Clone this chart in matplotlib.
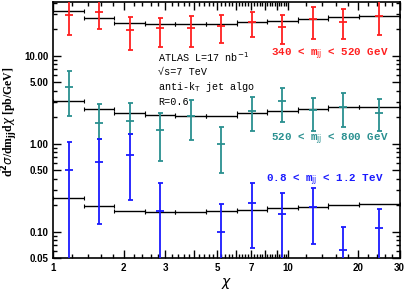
import numpy as np
import matplotlib
matplotlib.use("Agg")
import matplotlib.pyplot as plt
from matplotlib.ticker import FixedLocator, FixedFormatter, NullFormatter

# chi bin edges
edges = [1.0, 1.35, 1.82, 2.46, 3.32, 4.48, 6.05, 8.17, 11.02, 14.88, 20.09, 30.0]

# 340 < mjj < 520 GeV (red)
red_val = [28.6, 31.4, 19.3, 20.5, 20.4, 21.6, 24.0, 21.2, 25.9, 24.2, 28.3]
red_hi = [45.0, 45.0, 27.1, 26.4, 28.1, 28.8, 30.9, 29.0, 35.3, 33.7, 42.0]
red_lo = [17.1, 19.8, 11.5, 12.6, 12.4, 14.0, 16.1, 13.5, 15.4, 15.3, 17.1]
red_th = [32.3, 26.9, 23.5, 22.6, 22.6, 23.0, 24.2, 24.8, 25.9, 27.4, 28.3]

# 520 < mjj < 800 GeV (teal)
teal_val = [4.36, 1.73, 1.82, 1.42, 2.06, 0.99, 2.34, 3.07, 2.41, 2.62, 2.21]
teal_hi = [6.67, 2.79, 2.87, 2.21, 3.12, 1.56, 3.35, 4.31, 3.32, 3.72, 3.18]
teal_lo = [2.06, 1.13, 1.29, 0.635, 1.10, 0.46, 1.38, 1.77, 1.39, 1.56, 1.40]
teal_th = [3.07, 2.45, 2.21, 2.11, 2.06, 2.08, 2.24, 2.36, 2.47, 2.58, 2.62]

# 0.8 < mjj < 1.2 TeV (blue)
blue_val = [0.50, 0.62, 0.75, 0.170, np.nan, 0.100, 0.212, 0.160, 0.192, 0.0615, 0.111]
blue_hi = [1.03, 1.12, 1.29, 0.357, np.nan, 0.208, 0.36, 0.273, 0.31, 0.113, 0.178]
blue_lo = [0.02, 0.123, 0.227, 0.02, np.nan, 0.02, 0.0648, 0.02, 0.072, 0.02, 0.02]
blue_th = [0.239, 0.196, 0.169, 0.167, 0.167, 0.172, 0.176, 0.186, 0.192, 0.201, 0.205]

ytick_vals = [0.05, 0.1, 0.5, 1, 5, 10]
ytick_labels = ["0.05", "0.10", "0.50", "1.00", "5.00", "10.00"]
xtick_vals = [1, 2, 3, 5, 7, 10, 20, 30]
xtick_labels = ["1", "2", "3", "5", "7", "10", "20", "30"]

W, H = 407, 292
fig = plt.figure(figsize=(W / 100, H / 100), dpi=100)
ax = fig.add_axes([53.3 / W, (H - 258) / H, (399.5 - 53.3) / W, (258 - 2) / H])

e = np.array(edges)
centers = np.sqrt(e[:-1] * e[1:])

def draw(val, hi, lo, th, color):
    th = np.array(th)
    ax.errorbar(centers, th, xerr=[centers - e[:-1], e[1:] - centers], fmt='none',
                ecolor='black', elinewidth=1.0, capsize=1.5, capthick=0.8, zorder=2)
    val = np.array(val); hi = np.array(hi); lo = np.array(lo)
    ax.errorbar(centers, val, yerr=[val - lo, hi - val], fmt='_', color=color,
                ecolor=color, elinewidth=1.3, markersize=6, markeredgewidth=1.3,
                capsize=1.8, capthick=1.0, zorder=3)

draw(red_val, red_hi, red_lo, red_th, '#ff2020')
draw(teal_val, teal_hi, teal_lo, teal_th, '#2a9090')
draw(blue_val, blue_hi, blue_lo, blue_th, '#1a1aff')

ax.set_xscale('log')
ax.set_yscale('log')
ax.set_xlim(1, 30)
ax.set_ylim(0.05, 40.6)

ax.yaxis.set_major_locator(FixedLocator(ytick_vals))
ax.yaxis.set_major_formatter(FixedFormatter(ytick_labels))
yminor = [m * 10.0 ** k for k in range(-2, 2) for m in range(2, 10)]
yminor = [v for v in yminor if 0.05 < v < 40.6 and not any(abs(v - t) < 1e-9 for t in ytick_vals)]
ax.yaxis.set_minor_locator(FixedLocator(yminor))
ax.yaxis.set_minor_formatter(NullFormatter())

xmajor = list(range(1, 11)) + [20, 30]
ax.xaxis.set_major_locator(FixedLocator(xmajor))
ax.xaxis.set_major_formatter(FixedFormatter([str(v) if v in xtick_vals else "" for v in xmajor]))
xminor = [round(v, 2) for v in np.arange(1.2, 10, 0.2) if abs(v - round(v)) > 1e-6] + list(range(12, 30, 2))
xminor = [v for v in xminor if v not in (20,)]
ax.xaxis.set_minor_locator(FixedLocator(xminor))
ax.xaxis.set_minor_formatter(NullFormatter())

ax.tick_params(which='both', direction='in', top=True, right=True, width=1.0)
ax.tick_params(which='major', length=6)
ax.tick_params(which='minor', length=3)
for lab in ax.get_xticklabels() + ax.get_yticklabels():
    lab.set_fontweight('bold')
    lab.set_fontsize(7)
    lab.set_fontfamily('Liberation Sans')
for s in ax.spines.values():
    s.set_linewidth(1.2)

ax.set_xlabel(r'$\chi$', fontsize=10, labelpad=2)

# y label placed explicitly in figure pixels
fig.text(10 / W, 1 - 122 / H, r'd$^{\mathbf{2}}\sigma$/dm$_{\mathbf{jj}}$d$\chi$ [pb/GeV]',
         fontsize=8.5, family='Liberation Serif', fontweight='bold',
         rotation=90, ha='center', va='center')

mono = 'Liberation Mono'

def put(x, y, s, color='black', ha='left', size=7.3):
    fig.text(x / W, 1 - y / H, s, fontsize=size, family=mono, va='center', ha=ha, color=color,
             fontweight='bold' if color != 'black' else 'normal')

put(158, 57, r'ATLAS L=17 nb$^{-1}$')
put(158, 72, '√s=7 TeV')
put(158, 87, r'anti-k$_{\rm T}$ jet algo')
put(158, 102, 'R=0.6')
put(389, 54, r'340 < m$_{\rm jj}$ < 520 GeV', color='#ff2020', ha='right', size=7.8)
put(389, 139, r'520 < m$_{\rm jj}$ < 800 GeV', color='#2a9090', ha='right', size=7.8)
put(384, 180, r'0.8 < m$_{\rm jj}$ < 1.2 TeV', color='#1a1aff', ha='right', size=7.8)

fig.savefig('out.png', dpi=100)
